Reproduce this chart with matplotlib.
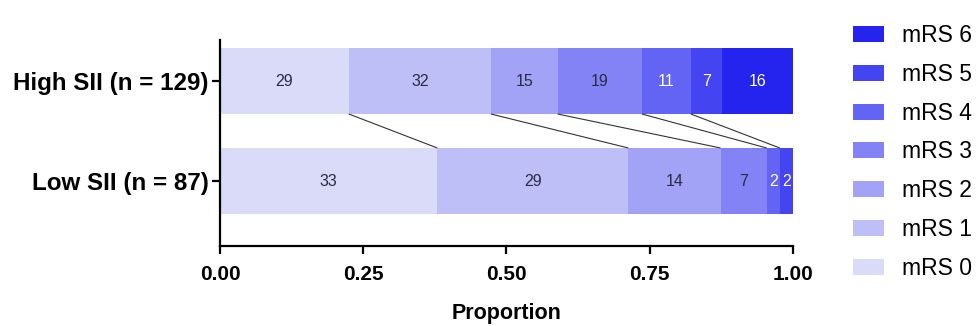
import numpy as np
import matplotlib
matplotlib.use("Agg")
import matplotlib.pyplot as plt
from matplotlib.patches import Patch

# mRS distribution (patient counts) per SII group
groups = ["Low SII (n = 87)", "High SII (n = 129)"]
categories = ["mRS 0", "mRS 1", "mRS 2", "mRS 3", "mRS 4", "mRS 5", "mRS 6"]
high_counts = [29, 32, 15, 19, 11, 7, 16]
low_counts = [33, 29, 14, 7, 2, 2, 0]
xticks = [0.00, 0.25, 0.50, 0.75, 1.00]

colors = ["#dadbf8", "#bfbff8", "#a2a2f7", "#8383f6", "#6363f4", "#4444f1", "#2424ee"]
text_colors = ["#2a2a44", "#2a2a44", "#2a2a44", "#2a2a44", "white", "white", "white"]

plt.rcParams["font.family"] = ["Liberation Sans", "DejaVu Sans"]

fig = plt.figure(figsize=(9.77, 3.26), dpi=100)
ax = fig.add_axes([220 / 977, 1 - 246 / 326, 573 / 977, 206 / 326])

counts = np.array([low_counts, high_counts], dtype=float)
props = counts / counts.sum(axis=1, keepdims=True)
cum = np.cumsum(props, axis=1)
starts = cum - props
ypos = np.array([0.0, 1.0])
bar_h = 0.66

for k, cat in enumerate(categories):
    ax.barh(ypos, props[:, k], left=starts[:, k], height=bar_h,
            color=colors[k], edgecolor="none", label=cat)
    for g in range(2):
        if counts[g, k] > 0:
            ax.text(starts[g, k] + props[g, k] / 2, ypos[g], f"{int(counts[g, k])}",
                    ha="center", va="center", fontsize=11.5,
                    color=text_colors[k])

# connector lines between matching category boundaries
for k in range(len(categories) - 1):
    if cum[0, k] < 1 - 1e-9 and cum[1, k] < 1 - 1e-9:
        ax.plot([cum[1, k], cum[0, k]], [ypos[1] - bar_h / 2, ypos[0] + bar_h / 2],
                color="#333333", lw=0.8, solid_capstyle="butt")

ax.set_xlim(0, 1)
ax.set_ylim(-0.65, 1.41)
ax.set_xticks(xticks)
ax.set_xticklabels([f"{v:.2f}" for v in xticks], fontsize=15, fontweight="bold")
ax.set_yticks(ypos)
ax.set_yticklabels(groups, fontsize=17.4, fontweight="bold")
ax.set_xlabel("Proportion", fontsize=15.5, fontweight="bold", labelpad=13)

for side in ("top", "right"):
    ax.spines[side].set_visible(False)
for side in ("left", "bottom"):
    ax.spines[side].set_linewidth(1.6)
ax.tick_params(axis="both", width=1.6, length=6)
ax.tick_params(axis="y", pad=2)
ax.tick_params(axis="x", pad=8)

handles = [Patch(facecolor=colors[k], edgecolor="none", label=categories[k])
           for k in range(len(categories) - 1, -1, -1)]
fig.legend(handles=handles, loc="upper left",
           bbox_to_anchor=(853 / 977, 1 - 24 / 326),
           frameon=False, fontsize=16.5, borderpad=0, borderaxespad=0,
           handlelength=1.35, handleheight=0.7, handletextpad=0.8,
           labelspacing=0.69)

fig.savefig("out.png", dpi=100)
